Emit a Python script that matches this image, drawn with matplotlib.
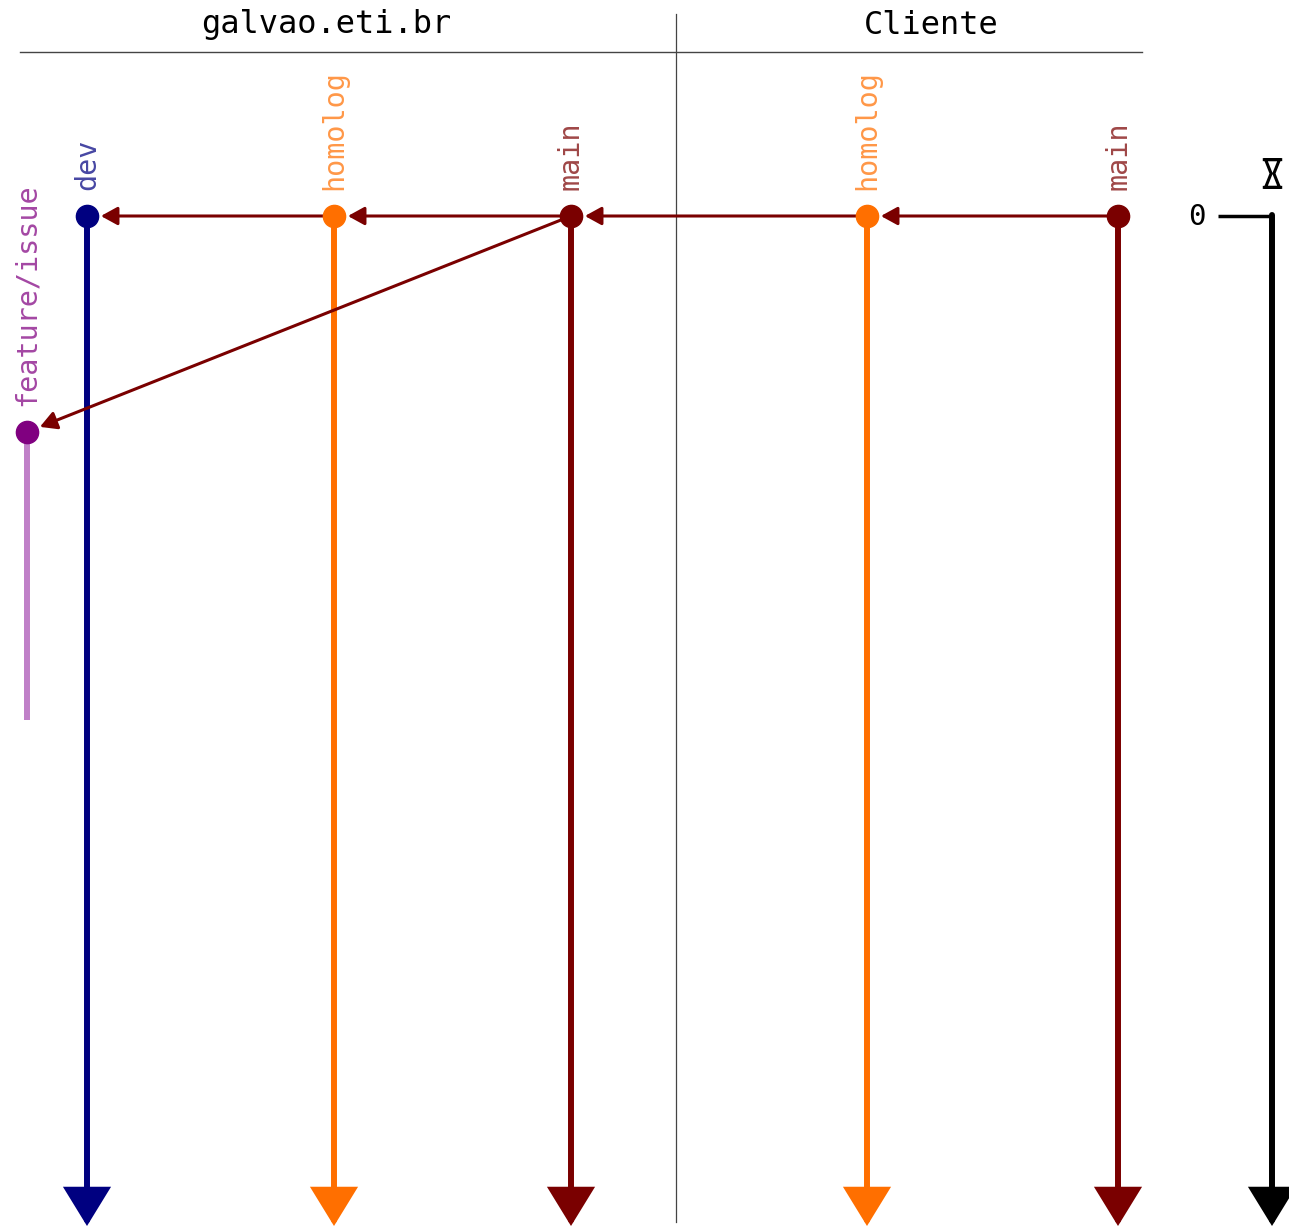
import matplotlib.pyplot as plt
from matplotlib.patches import FancyArrowPatch
from matplotlib.path import Path

# lanes (branches) on both sides of the divider
branches = ["feature/issue", "dev", "homolog", "main", "homolog", "main"]
lane_x = [27, 87, 334, 571, 867, 1118]
colors = ["#800080", "#000080", "#ff6f00", "#7a0000", "#ff6f00", "#7a0000"]
start_y = [432, 216, 216, 216, 216, 216]
end_y = [720, 1228, 1228, 1228, 1228, 1228]
has_arrow = [False, True, True, True, True, True]

# merges: (from lane, to lane)
merges = [(3, 2), (2, 1), (5, 4), (4, 3), (3, 0)]

sides = ["galvao.eti.br", "Cliente"]
side_x = [326, 931]
time_label = "0"

MONO = "DejaVu Sans Mono"

fig = plt.figure(figsize=(12.89, 12.30), dpi=100)
ax = fig.add_axes([0, 0, 1, 1])
ax.set_xlim(0, 1289)
ax.set_ylim(1230, 0)
ax.axis("off")

# header
ax.plot([20, 1142], [52, 52], color="#444444", lw=1.0)
ax.plot([676, 676], [14, 1222], color="#444444", lw=0.9)
for name, x in zip(sides, side_x):
    ax.text(x, 25, name, ha="center", va="center", fontsize=23, family=MONO)


def down_arrow(x, y0, y1, color, lw=4.3, head=True):
    style = "-|>,head_length=22,head_width=13.5" if head else "-"
    a = FancyArrowPatch((x, y0), (x, y1), arrowstyle=style, mutation_scale=1,
                        color=color, lw=lw, shrinkA=0, shrinkB=0, zorder=2,
                        joinstyle="miter")
    ax.add_patch(a)


for i, name in enumerate(branches):
    x, c = lane_x[i], colors[i]
    if has_arrow[i]:
        down_arrow(x, start_y[i], end_y[i] - 2, c)
    else:
        ax.plot([x, x], [start_y[i], end_y[i]], color="#c080c8", lw=4.3,
                solid_capstyle="butt", zorder=2)
    ax.plot(x, start_y[i], "o", color=c, ms=16, zorder=4)
    ax.text(x, start_y[i] - 26, name, rotation=90, ha="center", va="bottom",
            fontsize=20.5, family=MONO, color=c, alpha=0.72)

for a, b in merges:
    p = FancyArrowPatch((lane_x[a], start_y[a]), (lane_x[b], start_y[b]),
                        arrowstyle="-|>,head_length=10,head_width=5.5",
                        mutation_scale=1, color="#7a0000", lw=2.2,
                        shrinkA=0, shrinkB=10, zorder=3)
    ax.add_patch(p)

# time axis
ax.plot([1218, 1273], [216, 216], color="black", lw=2.5, solid_capstyle="butt")
down_arrow(1272, 215, 1226, "black")
ax.text(1197, 217, time_label, ha="center", va="center", fontsize=21,
        family=MONO)

# hourglass symbol (no installed font has the glyph, so draw it as a marker)
M, L, C = Path.MOVETO, Path.LINETO, Path.CLOSEPOLY
hourglass = Path(
    [(-0.7, 1), (0.7, 1), (-0.7, -1), (0.7, -1),
     (-0.5, 1), (0.5, 1), (0.1, 0), (0.5, -1), (-0.5, -1), (-0.1, 0), (-0.5, 1)],
    [M, L, M, L, M, L, L, L, L, L, C])
ax.plot(1272, 173, marker=hourglass, ms=20, mfc="none", mec="black", mew=2.2,
        linestyle="none")

fig.savefig("out.png", dpi=100)
